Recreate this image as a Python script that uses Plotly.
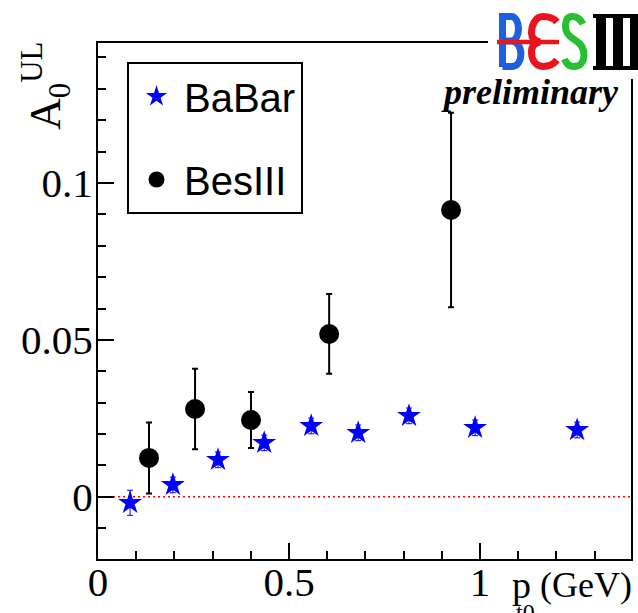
import plotly.graph_objects as go

# ---- data -------------------------------------------------------------
# BaBar: A0 upper-limit asymmetry versus transverse momentum p_t0 (GeV)
babar_pt = [0.084, 0.196, 0.314, 0.435, 0.558, 0.681, 0.814, 0.987, 1.254]
babar_a0 = [-0.0019, 0.0038, 0.0118, 0.0172, 0.0226, 0.0204, 0.0258, 0.0220, 0.0213]
babar_err = [0.0040, 0.0025, 0.0025, 0.0025, 0.0025, 0.0025, 0.0025, 0.0025, 0.0025]

# BESIII preliminary measurements
bes_pt = [0.1335, 0.254, 0.4005, 0.605, 0.924]
bes_a0 = [0.0124, 0.0280, 0.0245, 0.0519, 0.0914]
bes_err = [0.0113, 0.0128, 0.0089, 0.0127, 0.0310]

# axis ticks
x_ticks = [0, 0.5, 1]
x_tick_text = ["0", "0.5", "1"]
y_ticks = [0, 0.05, 0.1]
y_tick_text = ["0", "0.05", "0.1"]

# ---- page geometry (pixels) --------------------------------------------
W, H = 638, 613
L, R, T, B = 98, 631, 43, 559


def px(x):
    return (x - L) / (R - L)


def py(y):
    return (B - y) / (B - T)


def path(cmds):
    out = []
    for c in cmds:
        op, pts = c[0], c[1:]
        coords = []
        for i in range(0, len(pts), 2):
            coords.append(f"{px(pts[i]):.5f},{py(pts[i + 1]):.5f}")
        out.append(op + " " + " ".join(coords))
    return " ".join(out)


SERIF = "Liberation Serif, Times New Roman, serif"
SANS = "Liberation Sans, Arial, sans-serif"

fig = go.Figure()

fig.add_trace(go.Scatter(
    x=babar_pt, y=babar_a0, mode="markers", name="BaBar",
    legendgroup="a",
    marker=dict(symbol="star", size=18, color="#0000ff", line=dict(width=0)),
    error_y=dict(type="data", array=babar_err, color="#0000ff", thickness=1, width=3),
))
fig.add_trace(go.Scatter(
    x=bes_pt, y=bes_a0, mode="markers", name="BesIII",
    legendgroup="b",
    marker=dict(symbol="circle", size=20, color="black", line=dict(width=0)),
    error_y=dict(type="data", array=bes_err, color="black", thickness=2, width=3),
))

shapes = []
# zero reference line
shapes.append(dict(type="line", xref="paper", yref="y", x0=0, x1=1, y0=0, y1=0,
                   line=dict(color="red", width=1.5, dash="2px,3px"), layer="below"))

# white patch behind the experiment logo
shapes.append(dict(type="rect", xref="paper", yref="paper",
                   x0=px(488), x1=px(W + 5), y0=py(79), y1=py(-5),
                   fillcolor="white", line=dict(width=0), layer="above"))

# BESIII logo: B (blue), E (red), S (green), III (black)
shapes.append(dict(type="path", xref="paper", yref="paper", layer="above",
                   path=path([("M", 502.5, 67), ("L", 502.5, 16.5), ("L", 511, 16.5),
                              ("C", 521, 16.5, 521, 41, 511, 41), ("L", 502.5, 41),
                              ("M", 511, 41), ("C", 524, 41, 524, 66.5, 512, 66.5),
                              ("L", 502.5, 66.5)]),
                   line=dict(color="#1e5fdc", width=7)))
shapes.append(dict(type="path", xref="paper", yref="paper", layer="above",
                   path=path([("M", 557, 22), ("C", 553, 17, 548, 16.5, 543, 16.5),
                              ("C", 535, 16.5, 531.5, 26, 531.5, 33),
                              ("C", 531.5, 38, 535, 41, 540, 42),
                              ("C", 534, 43, 531.5, 47, 531.5, 52),
                              ("C", 531.5, 60, 536, 66.5, 543, 66.5),
                              ("C", 548, 66.5, 553, 65, 557, 60)]),
                   line=dict(color="#e8141e", width=7)))
shapes.append(dict(type="path", xref="paper", yref="paper", layer="above",
                   path=path([("M", 583, 24), ("C", 580, 18, 576, 16.5, 572, 16.5),
                              ("C", 567, 16.5, 565.5, 21, 565.5, 27),
                              ("C", 565.5, 35, 572, 38, 575, 40),
                              ("C", 580, 43, 584, 47, 584, 55),
                              ("C", 584, 62, 580, 66.5, 574, 66.5),
                              ("C", 569, 66.5, 566, 63, 564.5, 59)]),
                   line=dict(color="#28c032", width=7)))
shapes.append(dict(type="line", xref="paper", yref="paper", layer="above",
                   x0=px(497), x1=px(559), y0=py(42), y1=py(42),
                   line=dict(color="#e8141e", width=4.5)))
for x0, x1, y0, y1 in [(593, 645, 14, 18), (593, 645, 66, 70),
                       (596, 606, 14, 70), (613, 623, 14, 70), (630, 640, 14, 70)]:
    shapes.append(dict(type="rect", xref="paper", yref="paper", layer="above",
                       x0=px(x0), x1=px(x1), y0=py(y1), y1=py(y0),
                       fillcolor="black", line=dict(width=0)))

annotations = [
    dict(text="<b><i>preliminary</i></b>", xref="paper", yref="paper",
         x=px(530), y=py(92), xanchor="center", yanchor="middle", showarrow=False,
         font=dict(family=SERIF, size=36, color="black")),
    dict(text="A<sub>0</sub><sup>UL</sup>", xref="paper", yref="paper",
         x=px(46), y=py(86), xanchor="center", yanchor="middle", showarrow=False,
         textangle=-90, font=dict(family=SERIF, size=44, color="black")),
    # x-axis title: p with subscript t0 set beneath it, then the unit
    dict(text="p", xref="paper", yref="paper",
         x=px(510), y=py(562), xanchor="left", yanchor="top", showarrow=False,
         font=dict(family=SERIF, size=38, color="black")),
    dict(text="t0", xref="paper", yref="paper",
         x=px(514), y=py(597), xanchor="left", yanchor="top", showarrow=False,
         font=dict(family=SERIF, size=24, color="black")),
    dict(text="(GeV)", xref="paper", yref="paper",
         x=px(634), y=py(563), xanchor="right", yanchor="top", showarrow=False,
         font=dict(family=SERIF, size=36, color="black")),
]

axis_common = dict(
    showline=True, linecolor="black", linewidth=2, mirror=True,
    ticks="inside", ticklen=16, tickwidth=2, tickcolor="black",
    showgrid=False, zeroline=False, automargin=False,
    tickfont=dict(family=SERIF, size=41, color="black"),
)

fig.update_layout(
    width=W, height=H,
    margin=dict(l=L, r=W - R, t=T, b=H - B, pad=0),
    paper_bgcolor="white", plot_bgcolor="white",
    xaxis=dict(range=[0, 1.395], tickvals=x_ticks, ticktext=x_tick_text,
               ticklabelstandoff=-14,
               minor=dict(dtick=0.1, tick0=0, ticks="inside", ticklen=8,
                          tickwidth=2, tickcolor="black", showgrid=False),
               **axis_common),
    yaxis=dict(range=[-0.0198, 0.1446], tickvals=y_ticks, ticktext=y_tick_text,
               ticklabelstandoff=-5,
               minor=dict(dtick=0.01, tick0=0, ticks="inside", ticklen=8,
                          tickwidth=2, tickcolor="black", showgrid=False),
               **axis_common),
    showlegend=True,
    legend=dict(x=px(127), y=py(62), xanchor="left", yanchor="top",
                bgcolor="white", bordercolor="black", borderwidth=2,
                font=dict(family=SANS, size=40, color="black"),
                itemwidth=45,
                tracegroupgap=28, traceorder="grouped"),
    shapes=shapes,
    annotations=annotations,
)

fig.write_html("out.html")
